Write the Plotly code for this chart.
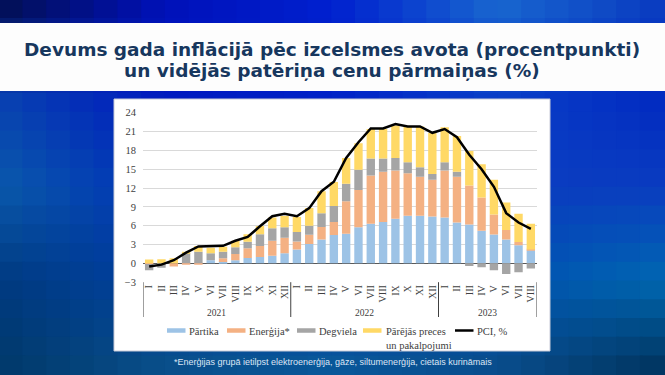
import plotly.graph_objects as go

# ---------------- data ----------------
years = ["2021", "2022", "2023"]
months = ["I", "II", "III", "IV", "V", "VI", "VII", "VIII", "IX", "X", "XI", "XII"]
months_per_year = [12, 12, 8]

partika = [0.0, 0.0, 0.0, 0.0, 0.0, 0.5, 0.2, 0.5, 0.85, 1.0, 1.2, 1.6,
           2.2, 3.1, 3.8, 4.5, 4.7, 5.75, 6.3, 6.6, 7.1, 7.6, 7.6, 7.45,
           7.3, 6.5, 6.2, 5.2, 4.6, 3.8, 2.9, 2.1]
energija = [-0.1, 0.0, -0.5, -0.2, -0.1, 0.0, 0.6, 1.0, 1.55, 1.75, 2.4, 2.5,
            1.3, 1.45, 2.0, 2.1, 5.2, 5.95, 7.7, 8.0, 7.7, 6.75, 6.2, 5.85,
            7.5, 7.3, 6.2, 5.3, 3.2, 1.5, 0.5, 0.1]
degviela = [-1.0, -0.7, 0.0, 1.65, 1.85, 1.1, 1.05, 1.05, 1.05, 1.9, 2.0, 1.65,
            1.5, 1.45, 2.2, 2.55, 2.8, 3.2, 2.7, 2.1, 2.0, 1.75, 1.5, 0.95,
            1.3, 0.8, -0.4, -0.6, -1.1, -1.7, -1.4, -0.8]
citas = [0.6, 0.65, 0.8, 0.1, 0.9, 0.9, 0.8, 1.05, 1.2, 1.3, 1.7, 1.8,
         2.4, 2.8, 3.5, 3.8, 4.1, 4.25, 4.7, 4.7, 5.15, 5.7, 6.5, 6.5,
         5.6, 5.7, 5.5, 5.3, 5.5, 4.4, 4.5, 4.1]
pci = [-0.5, -0.2, 0.5, 1.7, 2.7, 2.7, 2.8, 3.6, 4.2, 5.9, 7.5, 7.9,
       7.5, 8.8, 11.5, 13.0, 16.8, 19.3, 21.5, 21.5, 22.2, 21.8, 21.8, 20.8,
       21.4, 20.1, 17.3, 15.0, 12.2, 8.0, 6.5, 5.5]

series_names = ["Pārtika", "Enerģija*", "Degviela", "Pārējās preces<br>un pakalpojumi"]
line_name = "PCI, %"
y_ticks = [-3, 0, 3, 6, 9, 12, 15, 18, 21, 24]

title_lines = ["Devums gada inflācijā pēc izcelsmes avota (procentpunkti)",
               "un vidējās patēriņa cenu pārmaiņas (%)"]
footnote = "*Enerģijas grupā ietilpst elektroenerģija, gāze, siltumenerģija, cietais kurināmais"

# ---------------- build ----------------
x_month = []
year_bounds = []
start = 0
for yr, n in zip(years, months_per_year):
    x_month += months[:n]
    year_bounds.append((yr, start, start + n - 1))
    start += n
x_idx = list(range(len(x_month)))

colors = ["#9dc3e6", "#f4b183", "#a5a5a5", "#ffd966"]
W, H = 665, 375


def px_x(v):
    return v / W


def px_y(v):
    return 1 - v / H


fig = go.Figure()
for name, vals, col in zip(series_names, [partika, energija, degviela, citas], colors):
    fig.add_trace(go.Bar(x=x_idx, y=vals, name=name, marker=dict(color=col, line=dict(width=0)),
                         showlegend=False))
fig.add_trace(go.Scatter(x=x_idx, y=pci, name=line_name, mode="lines",
                         line=dict(color="black", width=2.5), showlegend=False))

# background gradient made of tiles
keys = [
    ["#020a4a", "#0010b8", "#0020d0", "#1a6ad0", "#0a3cc0"],
    ["#0840b0", "#0018c0", "#0020c8", "#0a40c8", "#0028c0"],
    ["#0a5aaa", "#0030b8", "#0030c0", "#0a3cc0", "#0a3cc0"],
    ["#003a80", "#0040a0", "#0040a8", "#0050b0", "#0068b0"],
    ["#003868", "#0a5088", "#0a5a98", "#0a4c88", "#003058"],
]


def hex2rgb(h):
    h = h.lstrip("#")
    return [int(h[i:i + 2], 16) for i in (0, 2, 4)]


K = [[hex2rgb(c) for c in row] for row in keys]


def color_at(fx, fy):
    gx, gy = fx * 4, fy * 4
    i0, j0 = min(int(gy), 3), min(int(gx), 3)
    ty, tx = gy - i0, gx - j0
    out = []
    for c in range(3):
        a = K[i0][j0][c] * (1 - tx) + K[i0][j0 + 1][c] * tx
        b = K[i0 + 1][j0][c] * (1 - tx) + K[i0 + 1][j0 + 1][c] * tx
        out.append(int(round(a * (1 - ty) + b * ty)))
    return "rgb(%d,%d,%d)" % tuple(out)


shapes = []
NC, NR = 28, 20
for r in range(NR):
    for c in range(NC):
        fx0, fx1 = c / NC, (c + 1) / NC
        fy0, fy1 = r / NR, (r + 1) / NR
        shapes.append(dict(type="rect", xref="paper", yref="paper", layer="below",
                           x0=fx0 - 0.002, x1=fx1 + 0.002, y0=1 - fy1 - 0.002, y1=1 - fy0 + 0.002,
                           line=dict(width=0), fillcolor=color_at((c + 0.5) / NC, (r + 0.5) / NR)))

# title bar and chart box
shapes.append(dict(type="rect", xref="paper", yref="paper", layer="below",
                   x0=-0.01, x1=1.01, y0=px_y(91), y1=px_y(23), line=dict(width=0), fillcolor="#fdfdfd"))
shapes.append(dict(type="rect", xref="paper", yref="paper", layer="below",
                   x0=px_x(114), x1=px_x(550), y0=px_y(351), y1=px_y(99),
                   line=dict(width=1, color="#c8cbd8"), fillcolor="white"))

annotations = [
    dict(text="<b>%s</b>" % title_lines[0], x=0.4985, y=px_y(49), xref="paper", yref="paper",
         showarrow=False, xanchor="center", yanchor="middle",
         font=dict(family="DejaVu Sans", size=18.5, color="#17375e")),
    dict(text="<b>%s</b>" % title_lines[1], x=0.4985, y=px_y(70.5), xref="paper", yref="paper",
         showarrow=False, xanchor="center", yanchor="middle",
         font=dict(family="DejaVu Sans", size=18.5, color="#17375e")),
    dict(text=footnote, x=px_x(333), y=px_y(362), xref="paper", yref="paper",
         showarrow=False, xanchor="center", yanchor="middle",
         font=dict(family="Liberation Sans", size=9, color="#dde6f5")),
]

# year group labels and dividers
for yr, i0, i1 in year_bounds:
    annotations.append(dict(text=yr, x=(i0 + i1) / 2, y=px_y(312.5), xref="x", yref="paper",
                            showarrow=False, xanchor="center", yanchor="middle",
                            font=dict(family="Liberation Serif", size=9.5, color="#404040")))
bounds = [year_bounds[0][1] - 0.5] + [b[2] + 0.5 for b in year_bounds]
for b in bounds:
    shapes.append(dict(type="line", xref="x", yref="paper", layer="above",
                       x0=b, x1=b, y0=px_y(317), y1=px_y(282.2),
                       line=dict(color="#404040", width=1)))

# legend (drawn manually to match the original swatch style)
leg_items = [
    (series_names[0], colors[0], 167, 187),
    (series_names[1], colors[1], 227, 247),
    (series_names[2], colors[2], 297, 317),
    (series_names[3], colors[3], 363, 384),
    (line_name, "black", 455, 475),
]
leg_y = 330.5
for name, col, sx, tx in leg_items:
    shapes.append(dict(type="line", xref="paper", yref="paper", layer="above",
                       x0=px_x(sx), x1=px_x(sx + 18.5), y0=px_y(leg_y), y1=px_y(leg_y),
                       line=dict(color=col, width=4.5 if col != "black" else 2.5)))
    annotations.append(dict(text=name, x=px_x(tx), y=px_y(leg_y - 6.5), xref="paper", yref="paper",
                            showarrow=False, xanchor="left", yanchor="top", align="left",
                            font=dict(family="Liberation Serif", size=10.5, color="#404040")))

fig.update_layout(
    width=W, height=H, autosize=False,
    margin=dict(l=0, r=0, t=0, b=0),
    paper_bgcolor="#0838b8", plot_bgcolor="white",
    barmode="relative", bargap=0.32,
    shapes=shapes, annotations=annotations, showlegend=False,
    xaxis=dict(domain=[px_x(143), px_x(537)], automargin=False, range=[-0.5, len(x_idx) - 0.5],
               tickmode="array", tickvals=x_idx, ticktext=x_month,
               tickangle=-90, tickfont=dict(family="Liberation Serif", size=10, color="#404040"),
               showgrid=False, ticks="", showline=False, zeroline=False),
    yaxis=dict(domain=[px_y(282.2), px_y(112.7)], range=[-3, 24], tickvals=y_ticks,
               automargin=False, showgrid=True, gridcolor="#d9d9d9", gridwidth=1,
               zeroline=True, zerolinecolor="#595959", zerolinewidth=1,
               tickfont=dict(family="Liberation Serif", size=10.5, color="#404040"),
               ticks="", ticklabelstandoff=6),
)

fig.write_html("out.html", config={"displayModeBar": False},
               post_script="document.body.style.margin='0';")
